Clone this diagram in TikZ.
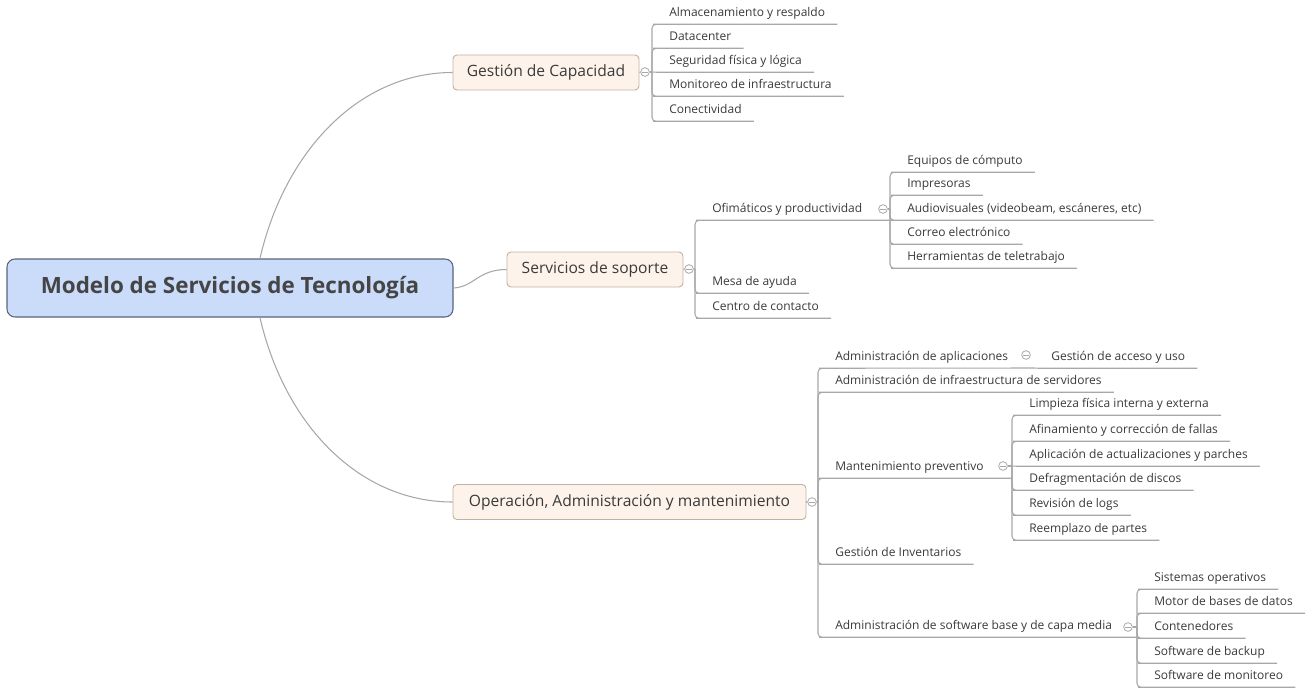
\documentclass[tikz,border=0pt]{standalone}
\usepackage{fontspec}
\setmainfont{Open Sans}
\usetikzlibrary{calc}

\definecolor{linkgray}{HTML}{A8A8A8}
\definecolor{inkdark}{HTML}{3A3A3A}
\definecolor{rootink}{HTML}{454545}
\definecolor{rootfill}{HTML}{CADCF9}
\definecolor{rootedge}{HTML}{56657F}
\definecolor{topicfill}{HTML}{FDF3EA}
\definecolor{topicedge}{HTML}{C2B2A2}

\begin{document}
\begin{tikzpicture}[x=0.75pt,y=-0.75pt,
  link/.style={draw=linkgray, line width=0.8pt},
  elbow/.style={link, rounded corners=3pt},
  rootbox/.style={draw=rootedge, fill=rootfill, line width=0.8pt, rounded corners=6pt,
    minimum width=334.5pt, minimum height=43.5pt, text=rootink,
    font=\bfseries\fontsize{16.8}{20}\selectfont},
  topic/.style={draw=topicedge, fill=topicfill, line width=0.7pt, rounded corners=3pt,
    minimum height=26.25pt, text=inkdark, font=\fontsize{11.7}{14}\selectfont},
  leaf/.style={anchor=base west, inner xsep=9pt, inner ysep=0pt,
    text height=7pt, text depth=5.625pt, text=inkdark,
    font=\fontsize{9}{11}\selectfont},
  tog/.style={circle, draw=linkgray, line width=0.6pt, fill=white,
    minimum size=6.5pt, inner sep=0pt,
    path picture={\draw[linkgray, line width=0.6pt]
      ([xshift=-2pt]path picture bounding box.center) --
      ([xshift=2pt]path picture bounding box.center);}}
]
\useasboundingbox (0,0) rectangle (1308,688);

% central topic and main branches
\node[rootbox] (root) at (230,288) {Modelo de Servicios de Tecnología};
\node[topic, minimum width=139.5pt] (cap) at (546,72.5) {Gestión de Capacidad};
\node[topic, minimum width=132pt] (sop) at (595,269.5) {Servicios de soporte};
\node[topic, minimum width=264.75pt] (ope) at (629.5,502) {Operación, Administración y mantenimiento};

\draw[link] ($(root.north west)!0.567!(root.north east)$) .. controls (285,150) and (360,72.5) .. (cap.west);
\draw[link] (root.east) .. controls (474,287) and (478,269.5) .. (sop.west);
\draw[link] ($(root.south west)!0.567!(root.south east)$) .. controls (285,426) and (360,502) .. (ope.west);

% Gestión de Capacidad
\node[tog] (capT) at (645,72) {};
\coordinate (capJ) at (652,72);
\draw[link] (cap.east) -- (capT.west);
\draw[link] (capT.east) -- (capJ);
\node[leaf] (c1) at (657,16.5) {Almacenamiento y respaldo};
\node[leaf] (c2) at (657,40.5) {Datacenter};
\node[leaf] (c3) at (657,64.5) {Seguridad física y lógica};
\node[leaf] (c4) at (657,88.5) {Monitoreo de infraestructura};
\node[leaf] (c5) at (657,113.5) {Conectividad};
\draw[elbow] (capJ) |- (c1.south west) -- (c1.south east);
\draw[elbow] (capJ) |- (c2.south west) -- (c2.south east);
\draw[link] (capJ) -- (c3.south west) -- (c3.south east);
\draw[elbow] (capJ) |- (c4.south west) -- (c4.south east);
\draw[elbow] (capJ) |- (c5.south west) -- (c5.south east);

% Servicios de soporte
\node[tog] (sopT) at (689,269) {};
\coordinate (sopJ) at (695,269);
\draw[link] (sop.east) -- (sopT.west);
\draw[link] (sopT.east) -- (sopJ);
\node[leaf] (s1) at (700,212.5) {Ofimáticos y productividad};
\node[leaf] (s2) at (700,285.5) {Mesa de ayuda};
\node[leaf] (s3) at (700,310.5) {Centro de contacto};
\coordinate (ofiJ) at (890,209);
\draw[elbow] (sopJ) |- (s1.south west) -- (ofiJ |- s1.south);
\draw[elbow] (sopJ) |- (s2.south west) -- (s2.south east);
\draw[elbow] (sopJ) |- (s3.south west) -- (s3.south east);

% Ofimáticos y productividad
\node[tog] (ofiT) at (883,209) {};
\draw[link] (ofiT.east) -- (ofiJ);
\node[leaf] (f1) at (895,164.5) {Equipos de cómputo};
\node[leaf] (f2) at (895,187.5) {Impresoras};
\node[leaf] (f3) at (895,212.5) {Audiovisuales (videobeam, escáneres, etc)};
\node[leaf] (f4) at (895,236.5) {Correo electrónico};
\node[leaf] (f5) at (895,260.5) {Herramientas de teletrabajo};
\draw[elbow] (ofiJ) |- (f1.south west) -- (f1.south east);
\draw[elbow] (ofiJ) |- (f2.south west) -- (f2.south east);
\draw[elbow] (ofiJ) |- (f3.south west) -- (f3.south east);
\draw[elbow] (ofiJ) |- (f4.south west) -- (f4.south east);
\draw[elbow] (ofiJ) |- (f5.south west) -- (f5.south east);

% Operación, Administración y mantenimiento
\node[tog] (opeT) at (812,502) {};
\coordinate (opeJ) at (818,502);
\draw[link] (ope.east) -- (opeT.west);
\draw[link] (opeT.east) -- (opeJ);
\node[leaf] (o1) at (823,360.5) {Administración de aplicaciones};
\node[leaf] (o2) at (823,384.5) {Administración de infraestructura de servidores};
\node[leaf] (o3) at (823,470.5) {Mantenimiento preventivo};
\node[leaf] (o4) at (823,556.5) {Gestión de Inventarios};
\node[leaf] (o5) at (823,629.5) {Administración de software base y de capa media};
\coordinate (appJ) at (1034,368);
\coordinate (manJ) at (1012,466);
\coordinate (swJ) at (1137,627);
\draw[elbow] (opeJ) |- (o1.south west) -- (appJ);
\draw[elbow] (opeJ) |- (o2.south west) -- (o2.south east);
\draw[elbow] (opeJ) |- (o3.south west) -- (manJ |- o3.south);
\draw[elbow] (opeJ) |- (o4.south west) -- (o4.south east);
\draw[elbow] (opeJ) |- (o5.south west) -- (swJ |- o5.south);

% Administración de aplicaciones
\node[tog] (appT) at (1026,355) {};
\node[leaf] (a1) at (1039,360.5) {Gestión de acceso y uso};
\draw[link] (appJ) -- (a1.south west) -- (a1.south east);

% Mantenimiento preventivo
\node[tog] (manT) at (1003,466) {};
\draw[link] (manT.east) -- (manJ);
\node[leaf] (m1) at (1017,407.5) {Limpieza física interna y externa};
\node[leaf] (m2) at (1017,433.5) {Afinamiento y corrección de fallas};
\node[leaf] (m3) at (1017,458.5) {Aplicación de actualizaciones y parches};
\node[leaf] (m4) at (1017,482.5) {Defragmentación de discos};
\node[leaf] (m5) at (1017,507.5) {Revisión de logs};
\node[leaf] (m6) at (1017,532.5) {Reemplazo de partes};
\draw[elbow] (manJ) |- (m1.south west) -- (m1.south east);
\draw[elbow] (manJ) |- (m2.south west) -- (m2.south east);
\draw[link] (manJ) -- (m3.south west) -- (m3.south east);
\draw[elbow] (manJ) |- (m4.south west) -- (m4.south east);
\draw[elbow] (manJ) |- (m5.south west) -- (m5.south east);
\draw[elbow] (manJ) |- (m6.south west) -- (m6.south east);

% Administración de software base y de capa media
\node[tog] (swT) at (1128,627) {};
\draw[link] (swT.east) -- (swJ);
\node[leaf] (w1) at (1142,581.5) {Sistemas operativos};
\node[leaf] (w2) at (1142,605.5) {Motor de bases de datos};
\node[leaf] (w3) at (1142,630.5) {Contenedores};
\node[leaf] (w4) at (1142,655.5) {Software de backup};
\node[leaf] (w5) at (1142,679.5) {Software de monitoreo};
\draw[elbow] (swJ) |- (w1.south west) -- (w1.south east);
\draw[elbow] (swJ) |- (w2.south west) -- (w2.south east);
\draw[elbow] (swJ) |- (w3.south west) -- (w3.south east);
\draw[elbow] (swJ) |- (w4.south west) -- (w4.south east);
\draw[elbow] (swJ) |- (w5.south west) -- (w5.south east);
\end{tikzpicture}
\end{document}
